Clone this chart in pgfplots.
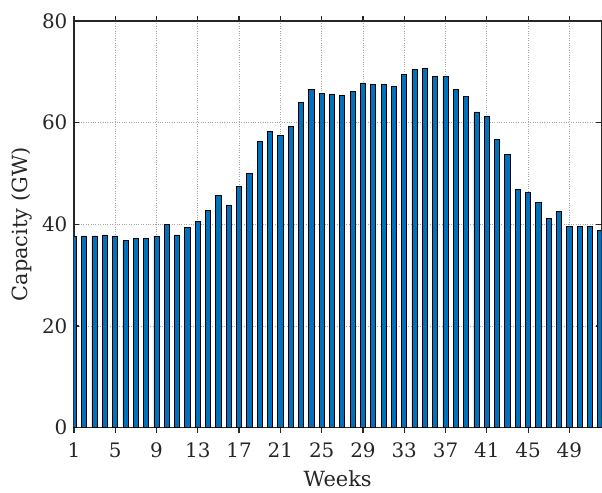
\documentclass[border=0pt]{standalone}
\usepackage{fontspec}
\setmainfont{DejaVu Serif}
\usepackage{pgfplots}
\pgfplotsset{compat=1.18}
\definecolor{mblue}{RGB}{0,114,189}
\definecolor{axgray}{RGB}{38,38,38}
\begin{document}
\begin{tikzpicture}
\useasboundingbox (-74bp,-65bp) rectangle (528.6bp,428bp);
\begin{axis}[
  at={(0,0)}, anchor=south west,
  scale only axis,
  width=528bp, height=407bp,
  xmin=1, xmax=52.1, ymin=0, ymax=80,
  xtick={1,5,...,49}, ytick={0,20,...,80},
  tick align=inside, major tick length=5bp,
  xmajorgrids, ymajorgrids,
  grid style={dotted, black!35, line width=0.8bp},
  axis line style={line width=1.2bp, axgray},
  tick style={line width=1.2bp, axgray},
  ticklabel style={font=\fontsize{20}{24}\selectfont, text=axgray},
  xticklabel style={yshift=-7bp},
  yticklabel style={xshift=-3bp},
  label style={font=\fontsize{21}{25}\selectfont, text=axgray},
  xlabel={Weeks}, ylabel={Capacity (GW)},
  xlabel style={yshift=-6bp},
  ylabel style={yshift=3bp},
  /pgf/number format/assume math mode=true,
  ybar, bar width=0.5,
]
\addplot[fill=mblue, draw=black, line width=0.8bp] coordinates {
(1,37.7) (2,37.7) (3,37.7) (4,37.9) (5,37.7) (6,36.8) (7,37.2) (8,37.2)
(9,37.7) (10,39.9) (11,37.9) (12,39.3) (13,40.5) (14,42.8) (15,45.7) (16,43.7)
(17,47.5) (18,50.0) (19,56.3) (20,58.3) (21,57.4) (22,59.2) (23,63.9) (24,66.5)
(25,65.7) (26,65.5) (27,65.4) (28,66.1) (29,67.8) (30,67.6) (31,67.6) (32,67.1)
(33,69.4) (34,70.5) (35,70.7) (36,69.0) (37,69.0) (38,66.5) (39,65.1) (40,62.1)
(41,61.2) (42,56.7) (43,53.8) (44,46.8) (45,46.2) (46,44.3) (47,41.1) (48,42.6)
(49,39.6) (50,39.6) (51,39.6) (52,38.8)
};
\end{axis}
\end{tikzpicture}
\end{document}
